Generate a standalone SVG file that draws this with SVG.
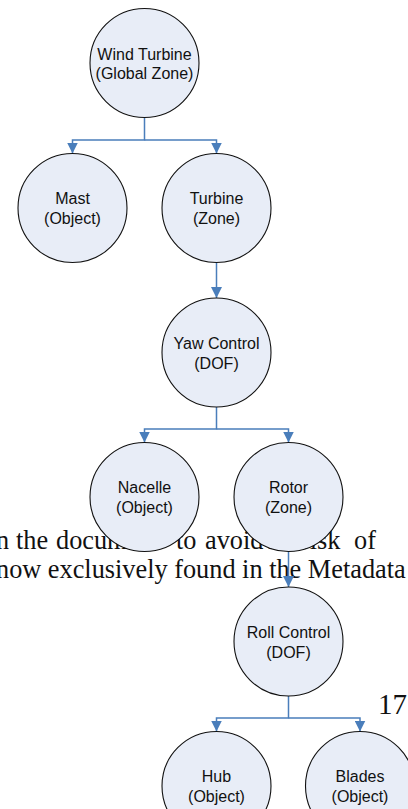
<svg xmlns="http://www.w3.org/2000/svg" width="408" height="809" viewBox="0 0 408 809">
<style>
.bg{font-family:"Liberation Serif","Times New Roman",serif;font-size:26.3px;fill:#111}
.node circle{fill:#E8EDF7;stroke:#111;stroke-width:1.1}
.node text{font-family:"Liberation Sans",Arial,sans-serif;font-size:16px;fill:#111;text-anchor:middle}
.conn path{fill:none;stroke:#4A7EBB;stroke-width:1.5}
</style>
<defs>
<marker id="ah" markerUnits="userSpaceOnUse" markerWidth="11" markerHeight="11" refX="10" refY="5" orient="auto" viewBox="0 0 10 10">
<path d="M0,0 L10,5 L0,10 z" fill="#4A7EBB"/>
</marker>
</defs>
<rect width="408" height="809" fill="#fff"/>
<g id="page-text">
<text class="bg" y="549"><tspan x="-4">n</tspan><tspan x="16">the</tspan><tspan x="56">document</tspan><tspan x="176">to</tspan><tspan x="205">avoid</tspan><tspan x="266">the</tspan><tspan x="301">risk</tspan><tspan x="354">of</tspan></text>
<text class="bg" x="-4" y="578">now exclusively found in the Metadata</text>
<text class="bg" x="378" y="714" style="font-size:29px">17</text>
</g>
<g id="connectors" class="conn">
<path d="M144.5,117.5 V140 H72.5 V153.5" marker-end="url(#ah)"/>
<path d="M144.5,140 H216.5 V153.5" marker-end="url(#ah)"/>
<path d="M216.5,262.5 V298" marker-end="url(#ah)"/>
<path d="M216.5,407 V429 H144.5 V442.5" marker-end="url(#ah)"/>
<path d="M216.5,429 H288.5 V442.5" marker-end="url(#ah)"/>
<path d="M288.5,551.5 V587" marker-end="url(#ah)"/>
<path d="M288.5,696 V718 H216.5 V731.5" marker-end="url(#ah)"/>
<path d="M288.5,718 H360 V731.5" marker-end="url(#ah)"/>
</g>
<g id="wind-turbine" class="node"><circle cx="144.5" cy="63" r="54.5"/><text x="144.5" y="59.5">Wind Turbine</text><text x="144.5" y="79">(Global Zone)</text></g>
<g id="mast" class="node"><circle cx="72.5" cy="208" r="54.5"/><text x="72.5" y="204">Mast</text><text x="72.5" y="224">(Object)</text></g>
<g id="turbine" class="node"><circle cx="216.5" cy="208" r="54.5"/><text x="216.5" y="204">Turbine</text><text x="216.5" y="224">(Zone)</text></g>
<g id="yaw-control" class="node"><circle cx="216.5" cy="352.5" r="54.5"/><text x="216.5" y="348.5">Yaw Control</text><text x="216.5" y="368.5">(DOF)</text></g>
<g id="nacelle" class="node"><circle cx="144.5" cy="497" r="54.5"/><text x="144.5" y="493">Nacelle</text><text x="144.5" y="513">(Object)</text></g>
<g id="rotor" class="node"><circle cx="288.5" cy="497" r="54.5"/><text x="288.5" y="493">Rotor</text><text x="288.5" y="513">(Zone)</text></g>
<g id="roll-control" class="node"><circle cx="288.5" cy="641.5" r="54.5"/><text x="288.5" y="637.5">Roll Control</text><text x="288.5" y="657.5">(DOF)</text></g>
<g id="hub" class="node"><circle cx="216.5" cy="786" r="54.5"/><text x="216.5" y="782">Hub</text><text x="216.5" y="802">(Object)</text></g>
<g id="blades" class="node"><circle cx="360" cy="786" r="54.5"/><text x="360" y="782">Blades</text><text x="360" y="802">(Object)</text></g>
</svg>
